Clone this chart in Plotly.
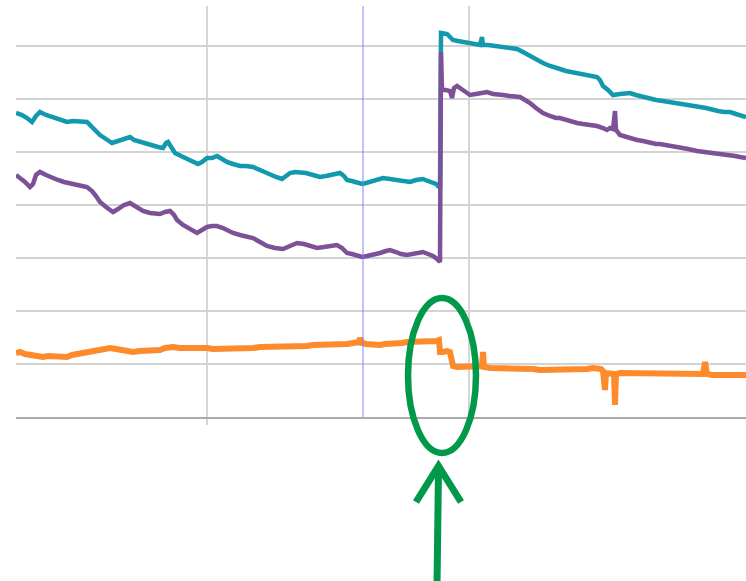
import plotly.graph_objects as go

# ---- data (time index, signal level) ----
teal_t = [16,22,27,32,36,40,46,52,60,67,73,80,87,92,96,100,106,112,118,124,
          130,134,140,146,152,158,163,166,168,171,175,181,187,193,198,202,207,212,217,222,
          227,233,240,246,253,260,266,270,276,282,286,290,295,300,306,313,320,326,330,335,
          340,344,347,352,357,362,366,370,376,383,390,397,403,410,416,423,428,432,436,439,
          440,441,444,447,450,453,458,464,470,476,480,482,483,488,495,503,510,517,523,530,
          536,543,550,555,560,566,572,577,583,590,597,600,603,608,613,620,626,630,636,643,
          650,656,663,670,677,685,693,700,706,712,718,724,730,736,741,746]
teal_v = [304,302,299,295,301,305,302,300,298,295,296,295,295,290,286,282,278,274,276,278,
          280,277,275,273,271,270,269,274,275,270,264,261,258,256,253,255,259,259,261,258,
          255,253,251,251,250,247,244,242,240,238,241,244,245,245,244,242,240,241,242,243,
          244,241,237,236,235,233,234,235,237,239,238,237,236,235,237,238,236,235,233,230,
          229,384,383,383,380,377,376,375,374,373,372,380,372,372,371,370,369,368,365,361,
          358,354,351,349,348,346,345,344,343,342,340,337,331,327,322,323,324,324,322,320,
          319,317,316,315,314,313,312,310,309,307,306,305,305,303,301,300]

purple_t = [16,20,25,30,33,36,40,46,52,58,64,70,76,82,87,92,96,100,106,113,
            118,124,130,136,143,150,156,160,165,170,174,177,183,190,197,202,207,212,217,223,
            228,233,240,246,253,260,267,275,283,290,297,304,310,317,324,330,337,342,347,352,
            357,362,367,373,380,386,390,396,401,407,413,418,423,428,433,437,439,440,441,442,
            446,450,452,454,457,462,466,470,476,482,487,493,498,503,510,516,520,525,530,536,
            543,550,556,560,566,572,577,583,590,597,603,607,610,613,615,616,620,626,632,637,
            643,650,656,660,666,672,680,688,697,705,712,720,728,735,740,746]
purple_v = [242,239,235,230,233,242,245,242,239,237,235,234,232,231,230,226,221,215,210,205,
            208,212,214,210,206,204,203,203,205,206,202,197,192,188,184,187,190,191,191,189,
            186,184,182,181,179,175,171,169,168,171,174,173,171,169,170,171,172,169,164,163,
            161,160,161,162,164,166,167,165,163,162,163,164,165,163,161,158,155,155,365,327,
            327,326,319,329,331,327,324,322,323,324,325,323,322,322,321,320,320,317,314,309,
            304,301,299,299,297,295,294,293,292,291,289,287,289,288,306,287,282,280,278,277,
            276,274,273,273,272,271,270,268,266,265,265,264,262,261,260,259]

orange_t = [16,20,25,30,33,38,43,48,53,58,63,67,72,78,83,90,96,103,110,116,
            122,128,133,140,146,152,160,165,170,173,180,187,193,200,207,213,217,223,228,233,
            240,247,253,260,266,273,280,286,293,300,307,313,320,327,333,340,347,353,359,360,
            362,366,373,380,385,390,396,402,407,412,418,423,427,432,436,439,440,443,447,450,
            451,453,457,462,467,473,478,482,483,484,490,496,502,508,513,520,527,533,540,547,
            553,560,567,573,580,587,593,598,601,603,605,606,610,614,615,616,620,625,630,637,
            643,650,657,663,670,677,683,690,697,703,705,707,712,718,724,730,736,741,746]
orange_v = [64,65,63,62,61,60,60,61,61,60,60,60,62,63,64,66,67,68,69,68,
            67,66,65,66,66,67,67,69,70,70,69,69,69,70,69,68,68,69,69,69,
            69,69,69,70,70,70,70,70,71,71,71,72,72,72,73,73,73,74,75,79,
            74,73,72,72,73,73,73,74,75,75,75,75,75,76,76,77,65,65,66,65,
            60,51,50,50,50,50,50,51,65,50,49,49,49,48,48,48,48,48,47,47,
            48,48,48,48,48,48,49,49,48,46,27,44,44,43,12,43,44,44,44,44,
            44,44,44,44,44,43,43,43,43,43,55,43,42,42,42,41,42,42,42]

grid_ticks = [207, 469]
marker_t = 363

W, H = 746, 581
ML, MR, MT, MB = 16, 0, 6, 164
PW, PH = W - ML - MR, H - MT - MB


def px_x(p):
    return (p - ML) / PW


def px_y(p):
    return (H - MB - p) / PH


fig = go.Figure()
fig.add_trace(go.Scatter(x=orange_t, y=orange_v, mode="lines",
                         line=dict(color="#fd8a2b", width=6), showlegend=False))
fig.add_trace(go.Scatter(x=teal_t, y=teal_v, mode="lines",
                         line=dict(color="#1399ae", width=4.5), showlegend=False))
fig.add_trace(go.Scatter(x=purple_t, y=purple_v, mode="lines",
                         line=dict(color="#7d5197", width=4.5), showlegend=False))

green = "#00994a"
shapes = [
    dict(type="line", xref="x", yref="paper", x0=marker_t, x1=marker_t, y0=0, y1=1,
         line=dict(color="rgba(120,120,255,0.45)", width=2), layer="above"),
    dict(type="circle", xref="paper", yref="paper",
         x0=px_x(408), x1=px_x(476), y0=px_y(453), y1=px_y(298),
         line=dict(color=green, width=6.5)),
    dict(type="path", xref="paper", yref="paper",
         path=f"M {px_x(437)},{px_y(585)} L {px_x(438.5)},{px_y(470)}",
         line=dict(color=green, width=7)),
    dict(type="path", xref="paper", yref="paper",
         path=f"M {px_x(416)},{px_y(502)} L {px_x(438.5)},{px_y(466)} L {px_x(461)},{px_y(502)}",
         line=dict(color=green, width=7)),
]

fig.update_layout(
    width=W, height=H,
    margin=dict(l=ML, r=MR, t=MT, b=MB, pad=0),
    paper_bgcolor="white", plot_bgcolor="white",
    shapes=shapes,
    xaxis=dict(range=[16, 746], tickvals=grid_ticks, showticklabels=False,
               showgrid=True, gridcolor="#d6d6d6", gridwidth=2,
               ticks="outside", ticklen=6, tickwidth=2, tickcolor="#d6d6d6",
               showline=True, linecolor="#aaaaaa", linewidth=2, zeroline=False),
    yaxis=dict(range=[0, 411], tick0=0, dtick=53, showticklabels=False,
               showgrid=True, gridcolor="#d3d3d3", gridwidth=2,
               zeroline=False, showline=False, ticks=""),
)

fig.write_html("out.html", config={"displayModeBar": False},
               post_script="document.body.style.margin='0';document.body.style.padding='0';document.body.style.overflow='hidden';")
